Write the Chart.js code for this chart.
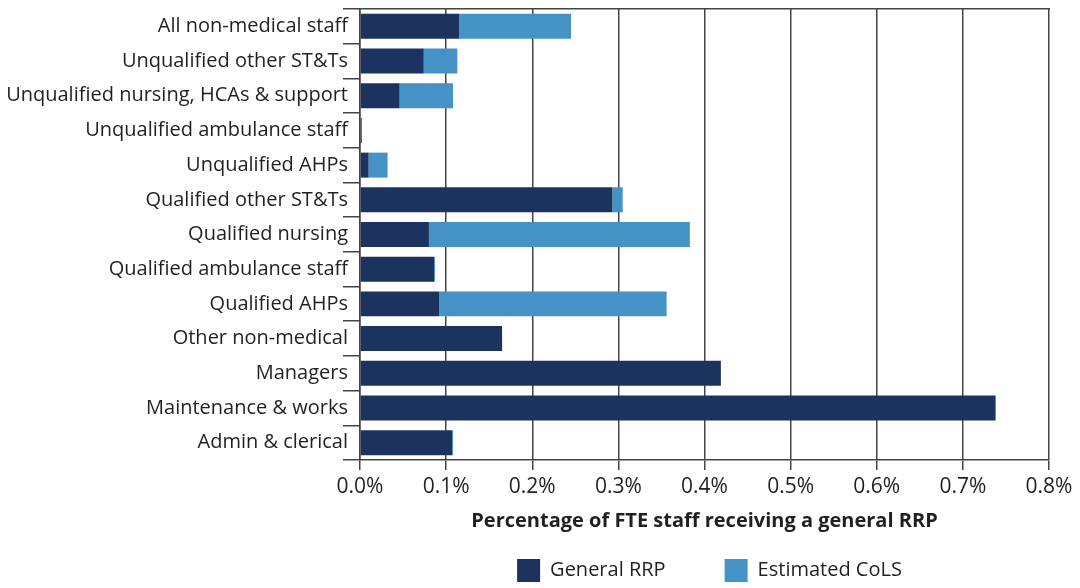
<!DOCTYPE html>
<html lang="en">
<head>
<meta charset="UTF-8">
<title>General RRP by staff group</title>
<script src="https://cdn.jsdelivr.net/npm/chart.js@4.4.1/dist/chart.umd.min.js"></script>
<style>
    html, body { margin: 0; padding: 0; background: #fff; }
    #wrap { width: 1080px; height: 588px; position: relative; }
</style>
</head>
<body>
<div id="wrap"><canvas id="myChart" width="1080" height="588"></canvas></div>
<script>
    // data (percent of FTE staff)
    var categories = [
        'All non-medical staff',
        'Unqualified other ST&Ts',
        'Unqualified nursing, HCAs & support',
        'Unqualified ambulance staff',
        'Unqualified AHPs',
        'Qualified other ST&Ts',
        'Qualified nursing',
        'Qualified ambulance staff',
        'Qualified AHPs',
        'Other non-medical',
        'Managers',
        'Maintenance & works',
        'Admin & clerical'
    ];
    var generalRRP =    [0.115, 0.074, 0.046, 0.002, 0.010, 0.293, 0.080, 0.086, 0.092, 0.165, 0.419, 0.738, 0.107];
    var estimatedCoLS = [0.130, 0.039, 0.062, 0, 0.022, 0.012, 0.303, 0.001, 0.264, 0, 0, 0, 0.001];
    var xTicks = [0, 0.1, 0.2, 0.3, 0.4, 0.5, 0.6, 0.7, 0.8];

    var fontFamily = "'Open Sans', 'Noto Sans', sans-serif";
    var textColor = '#231f20';
    var gridColor = '#444';

    // legend drawn under the axis title, centred on the plot
    var bottomLegend = {
        id: 'bottomLegend',
        afterDraw: function (chart) {
            var c = chart.ctx;
            var area = chart.chartArea;
            var box = 23, gap = 10, itemGap = 59;
            c.save();
            c.font = '20px ' + fontFamily;
            var sets = chart.data.datasets;
            var total = 0;
            sets.forEach(function (ds, i) {
                total += box + gap + c.measureText(ds.label).width + (i < sets.length - 1 ? itemGap : 0);
            });
            var x = (area.left + area.right) / 2 + 5 - total / 2;
            var y = 559;
            c.textBaseline = 'middle';
            c.textAlign = 'left';
            sets.forEach(function (ds) {
                c.fillStyle = ds.backgroundColor;
                c.fillRect(x, y, box, box);
                c.fillStyle = textColor;
                c.fillText(ds.label, x + box + gap, y + box / 2);
                x += box + gap + c.measureText(ds.label).width + itemGap;
            });
            c.restore();
        }
    };

    var ctx = document.getElementById('myChart').getContext('2d');
    var myChart = new Chart(ctx, {
        type: 'bar',
        data: {
            labels: categories,
            datasets: [
                { label: 'General RRP', data: generalRRP, backgroundColor: '#1c335f', barPercentage: 0.72, categoryPercentage: 1 },
                { label: 'Estimated CoLS', data: estimatedCoLS, backgroundColor: '#4493c4', barPercentage: 0.72, categoryPercentage: 1 }
            ]
        },
        plugins: [bottomLegend],
        options: {
            indexAxis: 'y',
            responsive: false,
            animation: false,
            layout: { padding: { top: 9, right: 31, left: 0, bottom: 55 } },
            plugins: {
                tooltip: { enabled: false },
                legend: { display: false }
            },
            scales: {
                x: {
                    stacked: true,
                    min: 0, max: 0.8,
                    afterBuildTicks: function (s) { s.ticks = xTicks.map(function (v) { return { value: v }; }); },
                    afterFit: function (s) { s.height = 73; },
                    ticks: {
                        color: textColor,
                        font: { family: fontFamily, size: 21 },
                        padding: 4,
                        callback: function (v) { return v.toFixed(1) + '%'; }
                    },
                    grid: { color: gridColor, lineWidth: 1.5, tickLength: 10, tickColor: gridColor },
                    border: { color: gridColor, width: 1.5 },
                    title: {
                        display: true,
                        text: 'Percentage of FTE staff receiving a general RRP',
                        color: textColor,
                        font: { family: fontFamily, size: 20, weight: 'bold' },
                        padding: { top: 0, bottom: 0 }
                    }
                },
                x2: {
                    position: 'top',
                    min: 0, max: 0.8,
                    afterFit: function (s) { s.height = 0; },
                    ticks: { display: false },
                    grid: { display: false },
                    border: { color: gridColor, width: 1.5 }
                },
                y: {
                    stacked: true,
                    afterFit: function (s) { s.width = 360; },
                    ticks: {
                        color: textColor,
                        font: { family: fontFamily, size: 20 },
                        padding: -5,
                        autoSkip: false
                    },
                    grid: { drawOnChartArea: false, tickLength: 17, color: gridColor, lineWidth: 1.5, offset: true },
                    border: { color: gridColor, width: 1.5 }
                }
            }
        }
    });
</script>
</body>
</html>
